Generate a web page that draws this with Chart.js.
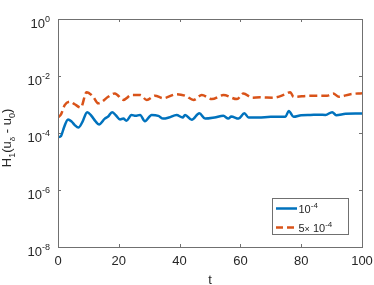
<!DOCTYPE html>
<html><head><meta charset="utf-8">
<script src="https://cdn.jsdelivr.net/npm/chart.js@4"></script>
<style>html,body{margin:0;padding:0;background:#fff}#c{display:block}</style>
</head><body>
<canvas id="c" width="374" height="285"></canvas>
<script>
// ---- data ----
const tBlue = [0,1,2,3.3,4.5,5.5,6.7,8,9.6,11,12.3,13.5,15.4,16.5,17.8,19,20.4,21.5,22.5,24.2,25.5,27,28.6,30.8,33,34.6,36.5,39,41,41.8,44,46.5,48.4,51.5,54.4,56,57,59.4,61.3,62.7,66,70,74.8,75.9,77.5,80,83,86,88,90.2,91.5,94.6,97.8,100];
const vBlue = [7.1e-5,7.9e-5,1.6e-4,3.0e-4,2.5e-4,1.9e-4,1.55e-4,2.4e-4,5.4e-4,4.0e-4,2.6e-4,2.0e-4,3.2e-4,3.8e-4,5.4e-4,4.2e-4,3.0e-4,3.2e-4,2.7e-4,4.3e-4,4.0e-4,4.3e-4,2.6e-4,4.3e-4,4.0e-4,3.2e-4,3.5e-4,4.3e-4,3.5e-4,4.3e-4,2.9e-4,4.9e-4,3.2e-4,3.5e-4,4.0e-4,3.2e-4,3.8e-4,3.2e-4,4.9e-4,3.5e-4,3.5e-4,3.7e-4,3.7e-4,5.9e-4,3.7e-4,4.2e-4,4.3e-4,4.4e-4,4.3e-4,5.4e-4,4.2e-4,4.7e-4,4.8e-4,4.8e-4];
const tOrange = [0,1,2.2,3.9,5.5,7.5,9.4,11.6,13.2,14.5,16.5,18.7,21.5,24.2,27,29.2,31.9,34.6,39,42,44.6,47.3,50.6,54.4,58.9,61,63.8,66.5,70.9,74.8,76.4,77.5,83,88.5,90.5,92.4,96.2,100];
const vOrange = [3.5e-4,4.5e-4,9.5e-4,1.26e-3,1.02e-3,7.8e-4,2.7e-3,1.86e-3,1.1e-3,1.26e-3,1.86e-3,2.45e-3,1.45e-3,2.14e-3,2.14e-3,1.45e-3,2.04e-3,1.66e-3,2.3e-3,2.0e-3,1.45e-3,2.14e-3,1.55e-3,2.14e-3,1.55e-3,2.45e-3,1.74e-3,1.78e-3,1.74e-3,2.3e-3,2.7e-3,1.86e-3,2.04e-3,2.04e-3,2.45e-3,1.86e-3,2.3e-3,2.5e-3];
const xTicks = [0,20,40,60,80,100];
const yTicks = [1,1e-2,1e-4,1e-6,1e-8];
const yTickExp = ['0','-2','-4','-6','-8'];
const legendLabels = [[['10',11,0],['-4',8,-5]], [['5',11,0],['\u00d7',9,0],[' 10',11,0],['-4',8,-5]]];
const seriesNames = ['10^-4','5x10^-4'];

const BLUE = '#0072BD', ORANGE = '#D95319';
const AXC = '#707070', TXT = '#262626';
const FONT = '"Liberation Sans", Arial, sans-serif';

function runs(ctx, parts, x, y, align) {
  let w = 0;
  parts.forEach(p => { ctx.font = p[1] + 'px ' + FONT; w += ctx.measureText(p[0]).width; });
  let cx = align === 'right' ? x - w : align === 'center' ? x - w / 2 : x;
  ctx.textAlign = 'left'; ctx.textBaseline = 'alphabetic';
  parts.forEach(p => { ctx.font = p[1] + 'px ' + FONT; ctx.fillText(p[0], cx, y + p[2]); cx += ctx.measureText(p[0]).width; });
  return w;
}

const decor = {
  id: 'decor',
  afterDatasetsDraw(chart) {
    const ctx = chart.ctx, a = chart.chartArea, xs = chart.scales.x, ys = chart.scales.y;
    ctx.save();
    ctx.strokeStyle = AXC; ctx.lineWidth = 1;
    ctx.strokeRect(Math.round(a.left) + 0.5, Math.round(a.top) + 0.5, Math.round(a.right - a.left), Math.round(a.bottom - a.top));
    ctx.beginPath();
    const TL = 3;
    xTicks.forEach(v => {
      const px = Math.round(xs.getPixelForValue(v)) + 0.5;
      ctx.moveTo(px, a.bottom); ctx.lineTo(px, a.bottom - TL);
      ctx.moveTo(px, a.top); ctx.lineTo(px, a.top + TL);
    });
    yTicks.forEach(v => {
      const py = Math.round(ys.getPixelForValue(v)) + 0.5;
      ctx.moveTo(a.left, py); ctx.lineTo(a.left + TL, py);
      ctx.moveTo(a.right, py); ctx.lineTo(a.right - TL, py);
    });
    ctx.stroke();
    ctx.fillStyle = TXT;
    yTicks.forEach((v, i) => {
      const py = ys.getPixelForValue(v);
      runs(ctx, [['10', 13, 0], [yTickExp[i], 9, -6.5]], a.left - 8, py + 9, 'right');
    });
    xTicks.forEach(v => {
      runs(ctx, [[String(v), 13, 0]], xs.getPixelForValue(v), a.bottom + 18, 'center');
    });
    runs(ctx, [['t', 13, 0]], (a.left + a.right) / 2, 284, 'center');
    ctx.save();
    ctx.translate(10.5, (a.top + a.bottom) / 2 + 5);
    ctx.rotate(-Math.PI / 2);
    runs(ctx, [['H', 13, 0], ['1', 9, 4], ['(u', 13, 0], ['\u03b4', 8, 4], [' - u', 13, 0], ['0', 9, 4], [')', 13, 0]], 0, 0, 'center');
    ctx.restore();
    const lx = 272.5, ly = 198.5, lw = 76, lh = 36;
    ctx.fillStyle = '#fff'; ctx.fillRect(lx, ly, lw, lh);
    ctx.strokeStyle = AXC; ctx.lineWidth = 1; ctx.strokeRect(lx, ly, lw, lh);
    ctx.lineWidth = 2.5;
    ctx.strokeStyle = BLUE; ctx.setLineDash([]);
    ctx.beginPath(); ctx.moveTo(276, 208.5); ctx.lineTo(297, 208.5); ctx.stroke();
    ctx.strokeStyle = ORANGE; ctx.setLineDash([7, 4]);
    ctx.beginPath(); ctx.moveTo(276, 227.5); ctx.lineTo(297, 227.5); ctx.stroke();
    ctx.setLineDash([]);
    ctx.fillStyle = TXT;
    runs(ctx, legendLabels[0], 298.5, 213, 'left');
    runs(ctx, legendLabels[1], 298.5, 232, 'left');
    ctx.restore();
  }
};

new Chart(document.getElementById('c'), {
  type: 'line',
  data: {
    datasets: [
      { label: seriesNames[0], data: tBlue.map((t, i) => ({ x: t, y: vBlue[i] })), borderColor: BLUE, borderWidth: 2.5, pointRadius: 0, cubicInterpolationMode: 'monotone', fill: false },
      { label: seriesNames[1], data: tOrange.map((t, i) => ({ x: t, y: vOrange[i] })), borderColor: ORANGE, borderWidth: 2.5, borderDash: [8, 4], pointRadius: 0, cubicInterpolationMode: 'monotone', fill: false }
    ]
  },
  options: {
    responsive: false, animation: false, devicePixelRatio: 1,
    layout: { padding: { left: 58, right: 12, top: 19, bottom: 38 } },
    plugins: { legend: { display: false }, tooltip: { enabled: false } },
    scales: {
      x: { type: 'linear', min: 0, max: 100, display: false },
      y: { type: 'logarithmic', min: 1e-8, max: 1, display: false }
    }
  },
  plugins: [decor]
});
</script>
</body></html>
